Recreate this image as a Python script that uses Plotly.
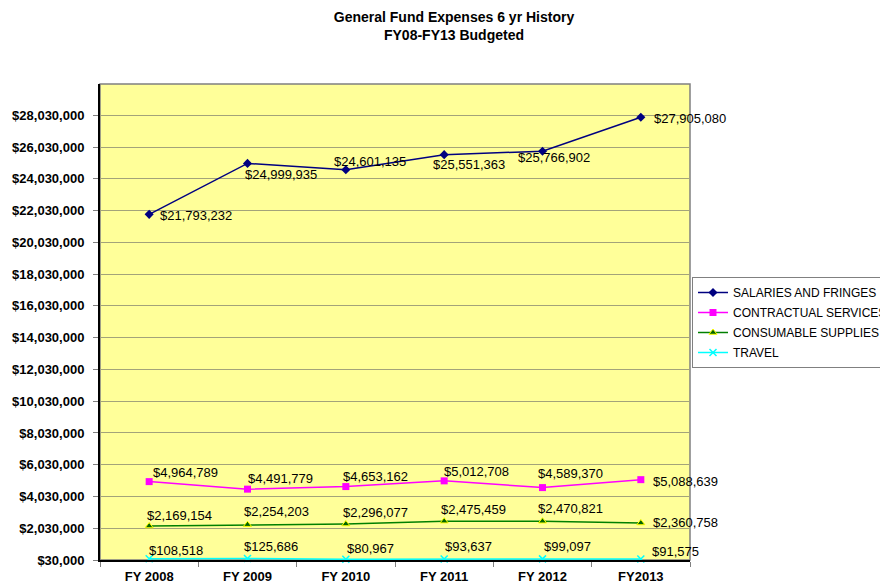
import plotly.graph_objects as go

categories = ["FY 2008", "FY 2009", "FY 2010", "FY 2011", "FY 2012", "FY2013"]
salaries = [21793232, 24999935, 24601135, 25551363, 25766902, 27905080]
contractual = [4964789, 4491779, 4653162, 5012708, 4589370, 5088639]
consumable = [2169154, 2254203, 2296077, 2475459, 2470821, 2360758]
travel = [108518, 125686, 80967, 93637, 99097, 91575]

y_tick_start = 30000
y_tick_step = 2000000
y_max = 30000000

FONT = "Liberation Sans, Arial, sans-serif"

# the page body has an 8px margin, so the figure is sized to fit the window
W, H = 880, 576

def fmt(v):
    return "${:,.0f}".format(v)

# label offsets in pixels (style only): (xshift, yshift) relative to each point
sal_off = [(11, -1), (-3, -11), (-12, 8), (-11, -10), (-25, -6), (13, -1)]
con_off = [(4, 9), (0, 11), (-3, 10), (0, 9), (-5, 14), (12, -2)]
cs_off = [(-2, 11), (-4, 13), (-3, 12), (-3, 12), (-5, 13), (12, 0)]
tr_off = [(0, 8), (-4, 12), (1, 11), (1, 12), (1, 12), (11, 8)]

series = [
    dict(name="SALARIES AND FRINGES", y=salaries, color="#000080", off=sal_off,
         marker=dict(symbol="diamond", size=7, color="#000080")),
    dict(name="CONTRACTUAL SERVICES", y=contractual, color="#FF00FF", off=con_off,
         marker=dict(symbol="square", size=7, color="#FF00FF")),
    dict(name="CONSUMABLE SUPPLIES", y=consumable, color="#008000", off=cs_off,
         marker=dict(symbol="triangle-up", size=7, color="#006400", line=dict(color="#FFFF00", width=1))),
    dict(name="TRAVEL", y=travel, color="#00FFFF", off=tr_off,
         marker=dict(symbol="x-thin", size=7, color="#00FFFF", line=dict(color="#00FFFF", width=1.5))),
]

fig = go.Figure()
annotations = []
for i, s in enumerate(series):
    fig.add_trace(go.Scatter(
        x=categories, y=s["y"], name=s["name"], mode="lines+markers",
        line=dict(color=s["color"], width=1.5),
        marker=s["marker"], legendgroup="g%d" % i,
        cliponaxis=False,
    ))
    for c, v, (dx, dy) in zip(categories, s["y"], s["off"]):
        annotations.append(dict(
            x=c, y=v, xref="x", yref="y", text=fmt(v), showarrow=False,
            xanchor="left", yanchor="middle", xshift=dx - 2, yshift=dy,
            font=dict(family=FONT, size=13, color="#000000"),
        ))

fig.update_layout(
    width=W, height=H,
    margin=dict(l=92, r=198, t=76, b=24),
    paper_bgcolor="#FFFFFF",
    plot_bgcolor="#FFFF99",
    font=dict(family=FONT, color="#000000"),
    title=dict(
        text="<b>General Fund Expenses 6 yr History<br>FY08-FY13 Budgeted</b>",
        xref="container", yref="container",
        x=446 / W, xanchor="center", y=1 - 14 / H, yanchor="middle",
        font=dict(family=FONT, size=14, color="#000000"),
    ),
    showlegend=True,
    legend=dict(
        xref="container", yref="container",
        x=684 / W, xanchor="left", y=1 - 269 / H, yanchor="top",
        bordercolor="#808080", borderwidth=1, bgcolor="#FFFFFF",
        font=dict(family=FONT, size=12, color="#000000"),
        tracegroupgap=1,
    ),
    xaxis=dict(
        type="category", range=[-0.5, 5.5], automargin=False,
        showgrid=False, showline=True, linecolor="#000000", linewidth=2,
        ticks="outside", tickson="boundaries", ticklen=5, tickcolor="#808080",
        ticklabelstandoff=3,
        tickfont=dict(family=FONT, size=13, color="#000000", weight="bold"),
        zeroline=False, fixedrange=True,
    ),
    yaxis=dict(
        range=[y_tick_start, y_max], automargin=False,
        tick0=y_tick_start, dtick=y_tick_step, tickmode="linear",
        tickprefix="$", tickformat=",.0f",
        showgrid=True, gridcolor="#A3A37A", gridwidth=1,
        showline=True, linecolor="#000000", linewidth=2,
        ticks="outside", ticklen=5, tickcolor="#808080",
        ticklabelstandoff=6,
        tickfont=dict(family=FONT, size=13, color="#000000", weight="bold"),
        zeroline=False, fixedrange=True,
    ),
    annotations=annotations,
    shapes=[dict(type="rect", xref="paper", yref="paper", x0=0, x1=1, y0=0, y1=1,
                 line=dict(color="#808080", width=1.5), layer="below")],
)

fig.write_html("out.html")
